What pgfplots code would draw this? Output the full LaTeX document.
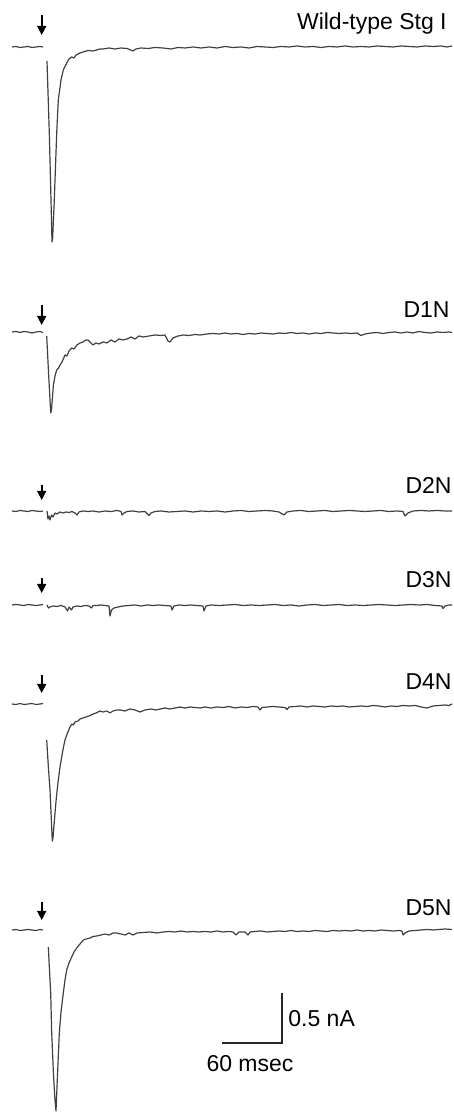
\documentclass[border=0pt]{standalone}
\usepackage{fontspec}
\setmainfont{Liberation Sans}
\usepackage{pgfplots}
\pgfplotsset{compat=1.18}
\usepackage{pgfplotstable}
\usetikzlibrary{arrows.meta}
\tikzset{
  trace/.style={black!75, line width=0.6pt, line join=round},
  arr/.style={black, line width=0.8pt, -{Triangle[length=4.5pt,width=4.5pt]}},
  lab/.style={anchor=base east, font=\fontsize{11.5}{13}\selectfont, inner sep=0pt},
}

% time in ms (stimulus at 0), current in nA relative to each trace's baseline
\pgfplotstableread{
t I
-31 0.00
-27 0.005
-23 -0.005
-19 0.00
-15 0.005
-11 -0.005
-7 0.00
-3 0.005
0 0.00
}\wtpre
\pgfplotstableread{
t I
4 -0.14
6.3 -0.86
8 -1.53
9 -1.95
9.6 -1.92
11.3 -1.53
13.7 -0.86
15.3 -0.53
18 -0.33
20.3 -0.23
23.7 -0.16
26 -0.12
28.7 -0.10
31 -0.11
33 -0.08
37 -0.06
40 -0.05
45 -0.035
50 -0.04
57 -0.02
60 -0.02
66 -0.01
72 -0.02
78 -0.01
84 -0.015
90 -0.04
93 -0.02
98 -0.01
105 -0.015
112 -0.005
120 -0.01
128 -0.02
135 -0.005
142 -0.01
150 0.0
158 -0.01
166 0.0
174 -0.01
182 0.005
190 -0.005
198 0.0
206 -0.01
214 0.005
222 0.0
230 -0.005
238 0.005
246 0.0
254 0.01
262 0.0
270 0.005
278 -0.005
286 0.005
294 0.0
302 0.01
310 0.0
318 0.005
326 0.0
334 0.01
342 0.005
350 0.0
358 0.01
366 0.005
374 0.0
382 0.01
390 0.005
398 0.01
404 0.0
409 0.01
}\wtpost

\pgfplotstableread{
t I
-31 0.00
-27 0.005
-23 -0.005
-19 0.005
-15 0.00
-11 -0.01
-7 0.00
-3 0.005
0 -0.005
}\dapre
\pgfplotstableread{
t I
3.7 -0.04
5.5 -0.40
7.7 -0.81
8.5 -0.78
10.3 -0.54
12 -0.44
13.7 -0.38
15.5 -0.36
17 -0.33
19 -0.30
22 -0.23
24 -0.24
26 -0.19
28.7 -0.16
31 -0.17
34 -0.13
37 -0.11
40 -0.10
43 -0.08
45 -0.08
48 -0.11
50 -0.13
53 -0.11
56 -0.12
60 -0.10
64 -0.11
68 -0.08
72 -0.10
76 -0.07
80 -0.08
84 -0.07
88 -0.05
92 -0.07
96 -0.04
100 -0.05
106 -0.04
112 -0.03
118 -0.035
122 -0.03
125 -0.09
127 -0.10
130 -0.06
135 -0.04
140 -0.03
146 -0.035
152 -0.025
157 -0.03
164 -0.02
170 -0.015
176 -0.02
182 -0.01
188 -0.02
194 -0.015
200 -0.025
206 -0.015
212 -0.02
218 -0.01
224 -0.015
230 -0.02
236 -0.01
242 -0.015
248 -0.005
254 -0.015
260 -0.01
266 -0.02
272 -0.01
278 -0.015
284 -0.005
290 -0.01
296 -0.015
302 -0.01
308 -0.015
314 -0.01
318 -0.035
322 -0.02
328 -0.01
334 -0.005
340 -0.015
346 -0.005
352 0.0
358 -0.01
364 0.0
370 -0.01
376 0.005
382 -0.005
388 -0.01
394 0.0
400 -0.005
406 0.0
409 -0.005
}\dapost

\pgfplotstableread{
t I
-31 0.00
-27 -0.005
-23 0.005
-19 0.00
-15 -0.005
-11 0.005
-7 0.00
-3 -0.005
0 0.00
}\dbpre
\pgfplotstableread{
t I
4 0.0
5 -0.08
6 -0.05
7 -0.09
8.5 -0.04
10 -0.06
12 -0.02
14 -0.03
17 -0.01
20 -0.02
23 -0.01
26 -0.015
29 -0.005
32 -0.02
34 -0.04
36 -0.01
40 0.0
45 -0.005
50 0.0
56 -0.01
62 0.0
68 -0.005
74 0.005
78 -0.005
79 -0.04
81 -0.02
84 -0.005
90 0.0
96 -0.01
102 -0.005
106 -0.045
108 -0.02
112 -0.005
118 0.0
126 -0.01
134 -0.005
142 0.0
150 -0.01
158 0.0
166 -0.005
174 0.0
182 -0.01
190 0.0
198 0.005
206 -0.005
214 0.0
222 0.005
230 0.0
236 -0.01
241 -0.04
244 -0.01
250 0.0
258 0.005
266 -0.005
274 0.0
282 0.005
290 -0.005
298 0.0
306 0.005
314 0.0
322 -0.005
330 0.0
338 0.005
346 -0.005
354 0.0
360 -0.005
362 -0.05
365 -0.02
370 0.0
378 0.005
386 0.0
394 0.005
402 0.0
409 0.0
}\dbpost

\pgfplotstableread{
t I
-31 0.00
-27 0.005
-23 0.00
-19 -0.005
-15 0.005
-11 0.00
-7 -0.005
-3 0.00
0 0.005
}\dcpre
\pgfplotstableread{
t I
4 0.0
5.5 -0.03
7 -0.02
10 -0.01
14 -0.015
18 -0.005
22 -0.02
24.5 -0.06
26 -0.02
28.5 -0.05
30 -0.02
34 -0.01
38 -0.015
42 -0.005
46 -0.01
48.5 -0.03
50 -0.005
54 -0.005
58 0.0
62 -0.005
66 -0.01
67 -0.11
68.5 -0.05
71 -0.03
75 -0.02
80 -0.01
86 -0.005
92 0.0
98 -0.01
104 0.0
110 -0.005
116 0.0
122 -0.005
128 -0.01
129 -0.05
131 -0.01
136 0.0
142 -0.005
148 0.0
154 -0.005
160 -0.01
161 -0.06
163 -0.01
168 0.0
176 -0.005
184 0.0
192 0.005
200 -0.005
208 0.0
216 -0.005
224 0.0
232 0.005
240 -0.005
248 0.0
256 -0.01
264 0.0
272 0.005
280 -0.005
288 0.0
296 0.005
304 -0.005
312 0.0
320 -0.005
328 0.0
336 0.005
344 0.0
352 -0.005
360 0.0
368 0.005
376 0.0
384 0.005
392 -0.005
399 -0.01
400 -0.035
402 -0.01
406 0.0
409 0.0
}\dcpost

\pgfplotstableread{
t I
-31 0.00
-27 -0.005
-23 0.005
-19 -0.005
-15 0.00
-11 0.005
-7 -0.005
-3 0.00
0 0.005
}\ddpre
\pgfplotstableread{
t I
3.7 -0.36
5.5 -0.65
7 -0.86
9.3 -1.37
10 -1.34
12 -1.09
13.5 -0.92
15.3 -0.76
17 -0.63
18.7 -0.53
20.3 -0.44
22 -0.36
24.5 -0.29
27 -0.23
29 -0.20
30.5 -0.21
32 -0.18
35 -0.17
37 -0.15
40 -0.14
43 -0.13
46 -0.12
50 -0.10
53 -0.09
57 -0.07
60 -0.08
64 -0.07
67 -0.09
70 -0.07
74 -0.06
77 -0.06
82 -0.07
87 -0.05
92 -0.06
97 -0.08
102 -0.06
108 -0.05
113 -0.06
117 -0.05
122 -0.04
127 -0.05
132 -0.04
137 -0.03
142 -0.04
147 -0.03
152 -0.035
157 -0.04
162 -0.03
168 -0.04
174 -0.03
180 -0.035
186 -0.025
192 -0.04
198 -0.03
204 -0.035
210 -0.025
215 -0.03
217 -0.06
219 -0.035
224 -0.03
230 -0.025
236 -0.03
242 -0.035
244 -0.055
246 -0.03
252 -0.025
258 -0.02
264 -0.03
270 -0.02
276 -0.025
282 -0.03
288 -0.02
294 -0.025
300 -0.02
306 -0.03
312 -0.025
318 -0.02
324 -0.025
330 -0.015
336 -0.02
342 -0.03
348 -0.02
354 -0.025
360 -0.015
366 -0.02
372 -0.015
378 -0.03
384 -0.04
390 -0.02
396 -0.015
402 -0.01
406 -0.015
409 0.0
}\ddpost

\pgfplotstableread{
t I
-31 0.00
-27 0.005
-23 -0.005
-19 0.00
-15 0.005
-11 0.00
-7 -0.005
-3 0.005
0 0.00
}\depre
\pgfplotstableread{
t I
5.3 -0.17
7.7 -0.63
8.7 -1.03
10.5 -1.45
12 -1.70
13 -1.81
14.5 -1.45
16.3 -1.03
18 -0.82
20.3 -0.63
22 -0.50
23.7 -0.40
26 -0.33
28.7 -0.27
31 -0.22
33.7 -0.18
37 -0.14
40.3 -0.10
43 -0.09
47 -0.08
50 -0.065
53.7 -0.06
58 -0.05
62 -0.04
66 -0.05
70 -0.03
73.7 -0.03
78 -0.04
82 -0.05
86 -0.03
90 -0.05
94 -0.03
100 -0.025
107 -0.02
114 -0.03
120 -0.02
126 -0.015
132 -0.02
138 -0.01
144 -0.02
150 -0.015
156 -0.02
162 -0.015
168 -0.02
174 -0.01
180 -0.02
186 -0.015
190 -0.02
193 -0.05
196 -0.02
202 -0.02
205 -0.05
207 -0.02
212 -0.015
218 -0.01
224 -0.02
230 -0.015
236 -0.01
242 -0.015
248 -0.005
254 -0.015
260 -0.01
266 -0.015
272 -0.005
278 -0.01
284 -0.015
290 -0.005
296 -0.01
302 -0.005
308 -0.01
314 0.0
320 -0.01
326 -0.005
332 -0.01
338 0.0
344 -0.005
350 -0.01
356 -0.005
359 -0.01
360 -0.05
362 -0.03
366 -0.01
372 -0.005
378 0.0
384 0.005
390 0.0
396 0.005
402 0.01
409 0.005
}\depost

\begin{document}
\begin{tikzpicture}
\begin{axis}[
  scale only axis, width=227pt, height=556.5pt,
  xmin=-43, xmax=411, ymin=-11.13, ymax=0,
  hide axis, clip=false,
]
% Wild-type Stg I (baseline -0.47)
\addplot[trace] table[x=t, y expr=\thisrow{I}-0.47] {\wtpre};
\addplot[trace] table[x=t, y expr=\thisrow{I}-0.47] {\wtpost};
% D1N (baseline -3.32)
\addplot[trace] table[x=t, y expr=\thisrow{I}-3.32] {\dapre};
\addplot[trace] table[x=t, y expr=\thisrow{I}-3.32] {\dapost};
% D2N (baseline -5.11)
\addplot[trace] table[x=t, y expr=\thisrow{I}-5.11] {\dbpre};
\addplot[trace] table[x=t, y expr=\thisrow{I}-5.11] {\dbpost};
% D3N (baseline -6.05)
\addplot[trace] table[x=t, y expr=\thisrow{I}-6.05] {\dcpre};
\addplot[trace] table[x=t, y expr=\thisrow{I}-6.05] {\dcpost};
% D4N (baseline -7.04)
\addplot[trace] table[x=t, y expr=\thisrow{I}-7.04] {\ddpre};
\addplot[trace] table[x=t, y expr=\thisrow{I}-7.04] {\ddpost};
% D5N (baseline -9.30)
\addplot[trace] table[x=t, y expr=\thisrow{I}-9.30] {\depre};
\addplot[trace] table[x=t, y expr=\thisrow{I}-9.30] {\depost};

% stimulus arrows
\draw[arr] (axis cs:-1.3,-0.15) -- (axis cs:-1.3,-0.35);
\draw[arr] (axis cs:-1.3,-3.05) -- (axis cs:-1.3,-3.25);
\draw[arr] (axis cs:-1.3,-4.85) -- (axis cs:-1.3,-5.00);
\draw[arr] (axis cs:-1.3,-5.78) -- (axis cs:-1.3,-5.93);
\draw[arr] (axis cs:-1.3,-6.75) -- (axis cs:-1.3,-6.93);
\draw[arr] (axis cs:-1.3,-9.02) -- (axis cs:-1.3,-9.20);

% labels
\node[lab] at (axis cs:404,-0.30) {Wild-type Stg I};
\node[lab] at (axis cs:407,-3.18) {D1N};
\node[lab] at (axis cs:409,-4.94) {D2N};
\node[lab] at (axis cs:409,-5.88) {D3N};
\node[lab] at (axis cs:409,-6.90) {D4N};
\node[lab] at (axis cs:409,-9.16) {D5N};

% scale bar
\draw[black!85, line width=0.6pt] (axis cs:179,-10.43) -- (axis cs:239,-10.43) -- (axis cs:239,-9.93);
\node[anchor=base west, font=\fontsize{11.5}{13}\selectfont, inner sep=0pt] at (axis cs:245,-10.27) {0.5 nA};
\node[anchor=base, font=\fontsize{11.5}{13}\selectfont, inner sep=0pt] at (axis cs:207,-10.72) {60 msec};
\end{axis}
\pgfresetboundingbox
\path (current axis.south west) rectangle (current axis.north east);
\end{tikzpicture}
\end{document}
